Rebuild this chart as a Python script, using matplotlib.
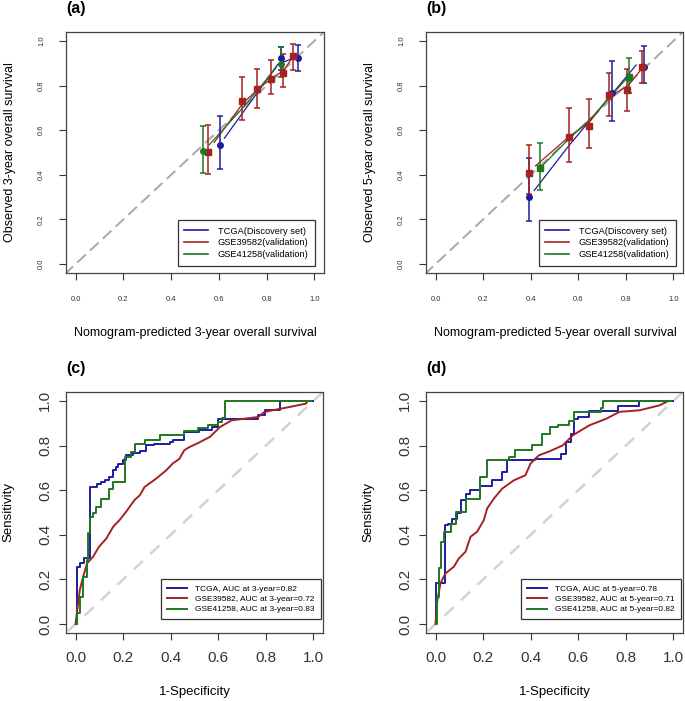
import matplotlib
matplotlib.use("Agg")
import matplotlib.pyplot as plt
import numpy as np

plt.rcParams['font.family'] = ['Liberation Sans', 'DejaVu Sans']

BLUE = '#1C1CA0'
RED = '#A52222'
GREEN = '#1E781E'

# ---------------- Calibration data, 3-year (a) ----------------
a_tcga_x = [0.605, 0.858, 0.930]
a_tcga_y = [0.532, 0.925, 0.925]
a_tcga_lo = [0.425, 0.870, 0.865]
a_tcga_hi = [0.664, 0.975, 0.982]
a_tcga_line_x = [0.623, 0.847, 0.930]
a_tcga_line_y = [0.564, 0.896, 0.930]

a_g39_x = [0.556, 0.696, 0.760, 0.819, 0.868, 0.912]
a_g39_y = [0.504, 0.731, 0.783, 0.831, 0.858, 0.933]
a_g39_lo = [0.405, 0.644, 0.698, 0.761, 0.794, 0.869]
a_g39_hi = [0.622, 0.839, 0.873, 0.913, 0.940, 0.985]
a_g39_line_x = [0.580, 0.700, 0.770, 0.830, 0.870, 0.910]
a_g39_line_y = [0.545, 0.720, 0.790, 0.840, 0.865, 0.930]

a_g41_x = [0.533, 0.858]
a_g41_y = [0.507, 0.896]
a_g41_lo = [0.410, 0.840]
a_g41_hi = [0.619, 0.973]
a_g41_line_x = [0.560, 0.700, 0.840]
a_g41_line_y = [0.535, 0.700, 0.880]

# ---------------- Calibration data, 5-year (b) ----------------
b_tcga_x = [0.391, 0.742, 0.875]
b_tcga_y = [0.302, 0.767, 0.885]
b_tcga_lo = [0.193, 0.641, 0.810]
b_tcga_hi = [0.477, 0.910, 0.978]
b_tcga_line_x = [0.415, 0.560, 0.740, 0.843]
b_tcga_line_y = [0.330, 0.530, 0.760, 0.892]

b_g39_x = [0.392, 0.560, 0.647, 0.731, 0.804, 0.868]
b_g39_y = [0.407, 0.570, 0.619, 0.758, 0.779, 0.883]
b_g39_lo = [0.313, 0.459, 0.522, 0.664, 0.686, 0.813]
b_g39_hi = [0.534, 0.698, 0.738, 0.858, 0.876, 0.956]
b_g39_line_x = [0.420, 0.560, 0.650, 0.730, 0.810, 0.870]
b_g39_line_y = [0.440, 0.570, 0.640, 0.750, 0.800, 0.880]

b_g41_x = [0.437, 0.815]
b_g41_y = [0.429, 0.839]
b_g41_lo = [0.332, 0.765]
b_g41_hi = [0.541, 0.922]
b_g41_line_x = [0.430, 0.550, 0.660, 0.810]
b_g41_line_y = [0.420, 0.550, 0.660, 0.840]

# ---------------- ROC data, 3-year (c) ----------------
c_tcga_fpr = [0.0, 0.006, 0.02, 0.035, 0.060, 0.090, 0.105, 0.125, 0.140, 0.158, 0.170, 0.180, 0.198, 0.213,
              0.240, 0.269, 0.297, 0.330, 0.395, 0.410, 0.457, 0.520, 0.572, 0.600, 0.767, 0.795, 0.858, 1.0]
c_tcga_tpr = [0.0, 0.257, 0.275, 0.294, 0.614, 0.627, 0.635, 0.644, 0.660, 0.689, 0.705, 0.719, 0.734, 0.759,
              0.765, 0.774, 0.801, 0.808, 0.815, 0.827, 0.861, 0.868, 0.883, 0.920, 0.935, 0.958, 1.0, 1.0]
c_g39_fpr = [0.0, 0.005, 0.018, 0.032, 0.049, 0.074, 0.099, 0.130, 0.158, 0.185, 0.213, 0.248, 0.270, 0.290,
             0.339, 0.381, 0.409, 0.436, 0.457, 0.480, 0.509, 0.565, 0.607, 0.656, 0.767, 0.795, 0.900, 0.969, 0.975]
c_g39_tpr = [0.0, 0.045, 0.152, 0.212, 0.273, 0.302, 0.347, 0.384, 0.436, 0.466, 0.504, 0.556, 0.577, 0.614,
             0.652, 0.689, 0.720, 0.740, 0.779, 0.794, 0.808, 0.839, 0.883, 0.913, 0.928, 0.951, 0.973, 0.988, 1.0]
c_g41_fpr = [0.0, 0.005, 0.018, 0.030, 0.049, 0.053, 0.060, 0.075, 0.088, 0.109, 0.141, 0.158, 0.206, 0.235,
             0.248, 0.290, 0.353, 0.457, 0.516, 0.558, 0.600, 0.614, 0.628, 0.99]
c_g41_tpr = [0.0, 0.05, 0.122, 0.21, 0.287, 0.408, 0.48, 0.50, 0.525, 0.56, 0.607, 0.637, 0.749, 0.771,
             0.808, 0.824, 0.846, 0.864, 0.880, 0.891, 0.906, 0.924, 1.0, 1.0]

# ---------------- ROC data, 5-year (d) ----------------
d_tcga_fpr = [0.0, 0.0, 0.039, 0.053, 0.070, 0.091, 0.109, 0.126, 0.147, 0.189, 0.238, 0.280, 0.301, 0.420,
              0.528, 0.549, 0.570, 0.584, 0.600, 0.647, 0.766, 0.857, 1.0]
d_tcga_tpr = [0.0, 0.185, 0.444, 0.45, 0.47, 0.496, 0.556, 0.584, 0.60, 0.617, 0.644, 0.682, 0.734, 0.741,
              0.763, 0.816, 0.853, 0.92, 0.93, 0.953, 0.978, 1.0, 1.0]
d_g39_fpr = [0.0, 0.007, 0.021, 0.042, 0.077, 0.098, 0.126, 0.147, 0.175, 0.203, 0.217, 0.245, 0.280, 0.329,
             0.378, 0.399, 0.434, 0.479, 0.535, 0.577, 0.647, 0.717, 0.773, 0.857, 0.941, 0.969, 0.98]
d_g39_tpr = [0.0, 0.10, 0.184, 0.227, 0.257, 0.294, 0.324, 0.391, 0.414, 0.466, 0.518, 0.562, 0.607, 0.644,
             0.667, 0.719, 0.756, 0.774, 0.801, 0.846, 0.891, 0.920, 0.951, 0.958, 0.980, 0.995, 1.0]
d_g41_fpr = [0.0, 0.007, 0.014, 0.021, 0.035, 0.063, 0.084, 0.126, 0.189, 0.217, 0.308, 0.336, 0.406, 0.448,
             0.479, 0.514, 0.563, 0.584, 0.696, 0.703, 0.99]
d_g41_tpr = [0.0, 0.122, 0.25, 0.369, 0.414, 0.45, 0.504, 0.562, 0.659, 0.734, 0.749, 0.779, 0.801, 0.853,
             0.883, 0.891, 0.908, 0.951, 0.969, 1.0, 1.0]

cal_labels = ['TCGA(Discovery set)', 'GSE39582(validation)', 'GSE41258(validation)']
roc3_labels = ['TCGA, AUC at 3-year=0.82', 'GSE39582, AUC at 3-year=0.72', 'GSE41258, AUC at 3-year=0.83']
roc5_labels = ['TCGA, AUC at 5-year=0.78', 'GSE39582, AUC at 5-year=0.71', 'GSE41258, AUC at 5-year=0.82']
ticks = [0.0, 0.2, 0.4, 0.6, 0.8, 1.0]
tick_labels = ['0.0', '0.2', '0.4', '0.6', '0.8', '1.0']

W, H = 685, 701
fig = plt.figure(figsize=(W / 100, H / 100), dpi=100)


def axes_px(l, t, r, b):
    return fig.add_axes([l / W, 1 - b / H, (r - l) / W, (b - t) / H])


def style_axes(ax, lab_size, xpad, ypad):
    ax.set_xlim(-0.04, 1.04)
    ax.set_ylim(-0.04, 1.04)
    ax.set_xticks(ticks)
    ax.set_yticks(ticks)
    ax.set_xticklabels(tick_labels)
    ax.set_yticklabels(tick_labels, rotation=90, va='center')
    ax.tick_params(axis='both', direction='out', length=5, width=0.8, colors='#333333', labelsize=lab_size)
    ax.tick_params(axis='x', pad=xpad)
    ax.tick_params(axis='y', pad=ypad)
    for s in ax.spines.values():
        s.set_color('#444444')
        s.set_linewidth(0.9)


def calib(ax, series, line_series):
    ax.plot([-0.1, 1.1], [-0.1, 1.1], color='#A8A8A8', lw=1.4, ls=(0, (6, 3)), zorder=1)
    for (x, y, lo, hi, col, mk), (lx, ly) in zip(series, line_series):
        ax.plot(lx, ly, color=col, lw=0.9, zorder=2)
        yerr = [np.array(y) - np.array(lo), np.array(hi) - np.array(y)]
        ax.errorbar(x, y, yerr=yerr, fmt=mk, color=col, ms=4, capsize=2.5, elinewidth=1.1,
                    capthick=1.1, zorder=3)
    handles = [plt.Line2D([], [], color=c, lw=1.2) for c in (BLUE, RED, GREEN)]
    return handles


def roc(ax, curves):
    ax.plot([-0.1, 1.1], [-0.1, 1.1], color='#D3D3D3', lw=1.8, ls=(0, (5, 4)), zorder=1)
    handles = []
    for fpr, tpr, col, ds in curves:
        h, = ax.plot(fpr, tpr, color=col, lw=1.4, drawstyle=ds, zorder=2)
        handles.append(h)
    return handles


def legend(ax, handles, labels, right, bottom, fs, hl):
    leg = ax.legend(handles, labels, loc='lower right', bbox_to_anchor=(right, bottom),
                    fontsize=fs, frameon=True, fancybox=False, borderaxespad=0,
                    handlelength=hl, handletextpad=1.0, borderpad=0.7, labelspacing=0.3,
                    edgecolor='black')
    leg.get_frame().set_linewidth(0.9)


# Panel (a)
axa = axes_px(66, 32, 324, 273)
style_axes(axa, 5.5, 11.5, 10)
h = calib(axa,
          [(a_tcga_x, a_tcga_y, a_tcga_lo, a_tcga_hi, BLUE, 'o'),
           (a_g39_x, a_g39_y, a_g39_lo, a_g39_hi, RED, 's'),
           (a_g41_x, a_g41_y, a_g41_lo, a_g41_hi, GREEN, 'o')],
          [(a_tcga_line_x, a_tcga_line_y), (a_g39_line_x, a_g39_line_y), (a_g41_line_x, a_g41_line_y)])
legend(axa, h, cal_labels, 0.965, 0.03, 6.7, 2.6)

# Panel (b)
axb = axes_px(426, 32, 683, 273)
style_axes(axb, 5.5, 11.5, 10)
h = calib(axb,
          [(b_tcga_x, b_tcga_y, b_tcga_lo, b_tcga_hi, BLUE, 'o'),
           (b_g39_x, b_g39_y, b_g39_lo, b_g39_hi, RED, 's'),
           (b_g41_x, b_g41_y, b_g41_lo, b_g41_hi, GREEN, 's')],
          [(b_tcga_line_x, b_tcga_line_y), (b_g39_line_x, b_g39_line_y), (b_g41_line_x, b_g41_line_y)])
legend(axb, h, cal_labels, 0.973, 0.03, 6.7, 2.6)

# Panel (c)
axc = axes_px(66, 392, 323, 633)
style_axes(axc, 11, 8, 5)
h = roc(axc, [(c_tcga_fpr, c_tcga_tpr, BLUE, 'steps-post'),
              (c_g39_fpr, c_g39_tpr, RED, 'default'),
              (c_g41_fpr, c_g41_tpr, GREEN, 'steps-post')])
legend(axc, h, roc3_labels, 0.991, 0.057, 6.0, 2.4)

# Panel (d)
axd = axes_px(426, 392, 683, 633)
style_axes(axd, 11, 8, 5)
h = roc(axd, [(d_tcga_fpr, d_tcga_tpr, BLUE, 'steps-post'),
              (d_g39_fpr, d_g39_tpr, RED, 'default'),
              (d_g41_fpr, d_g41_tpr, GREEN, 'steps-post')])
legend(axd, h, roc5_labels, 0.991, 0.057, 6.0, 2.4)


def ftext(x, y, s, **kw):
    fig.text(x / W, 1 - y / H, s, **kw)


ftext(66, 9, '(a)', fontsize=11.5, fontweight='bold', va='center', ha='left')
ftext(426, 9, '(b)', fontsize=11.5, fontweight='bold', va='center', ha='left')
ftext(66, 369, '(c)', fontsize=11.5, fontweight='bold', va='center', ha='left')
ftext(426, 369, '(d)', fontsize=11.5, fontweight='bold', va='center', ha='left')

ftext(10, 152, 'Observed 3-year overall survival', fontsize=9, rotation=90, va='center', ha='center')
ftext(370, 152, 'Observed 5-year overall survival', fontsize=9, rotation=90, va='center', ha='center')
ftext(195, 333, 'Nomogram-predicted 3-year overall survival', fontsize=9, va='center', ha='center')
ftext(555, 333, 'Nomogram-predicted 5-year overall survival', fontsize=9, va='center', ha='center')

ftext(8, 512, 'Sensitivity', fontsize=9.5, rotation=90, va='center', ha='center')
ftext(368, 512, 'Sensitivity', fontsize=9.5, rotation=90, va='center', ha='center')
ftext(195, 692, '1-Specificity', fontsize=9.5, va='center', ha='center')
ftext(555, 692, '1-Specificity', fontsize=9.5, va='center', ha='center')

fig.savefig('out.png', dpi=100, facecolor='white')
